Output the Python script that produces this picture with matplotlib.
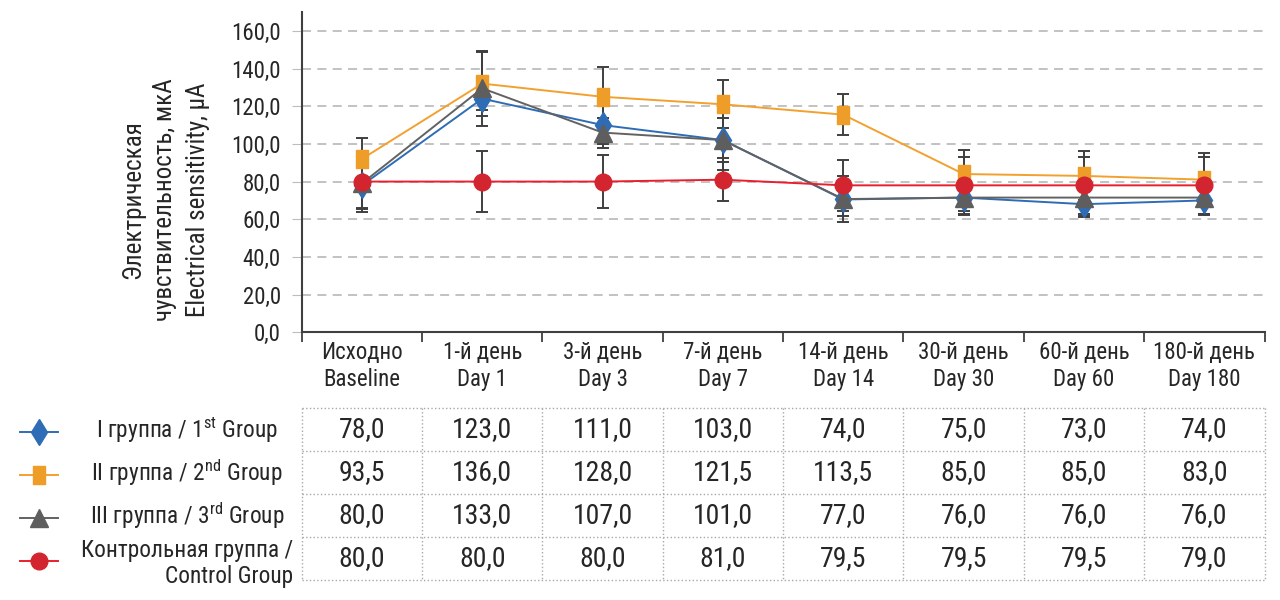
import matplotlib
matplotlib.use("Agg")
import matplotlib.pyplot as plt
import numpy as np
from matplotlib.path import Path as MPath

FONTS = ["Roboto Condensed", "PT Sans Narrow", "Fira Sans Condensed", "DejaVu Sans"]
plt.rcParams["font.family"] = FONTS
plt.rcParams["mathtext.fontset"] = "custom"
plt.rcParams["mathtext.rm"] = FONTS[0]

# ---------------------------------------------------------------------------
# data
# ---------------------------------------------------------------------------
CATS_RU = ["Исходно", "1-й день", "3-й день", "7-й день",
           "14-й день", "30-й день", "60-й день", "180-й день"]
CATS_EN = ["Baseline", "Day 1", "Day 3", "Day 7",
           "Day 14", "Day 30", "Day 60", "Day 180"]

# plotted points
G1 = [78, 124, 110, 102, 70.5, 71.5, 68, 70]
G2 = [92, 132, 125, 121, 115.5, 84, 83, 81]
G3 = [79, 129.5, 106, 102, 70.7, 71.5, 71.5, 71.5]
GC = [80, 80, 80, 81, 78, 78, 78, 78]

# error bars
E1 = [12.6, 6, 10, 16, 9, 7, 7, 7]
E2 = [11, 17, 16, 12.7, 11, 13, 13, 14]
E3 = [15, 20, 8, 11.5, 12, 9, 10, 9]
EC = [14, 16, 14, 11.5, 13.6, 15, 15, 15]

# table values
T1 = [78.0, 123.0, 111.0, 103.0, 74.0, 75.0, 73.0, 74.0]
T2 = [93.5, 136.0, 128.0, 121.5, 113.5, 85.0, 85.0, 83.0]
T3 = [80.0, 133.0, 107.0, 101.0, 77.0, 76.0, 76.0, 76.0]
TC = [80.0, 80.0, 80.0, 81.0, 79.5, 79.5, 79.5, 79.0]

LABELS = ["I группа / 1$^{\\mathrm{st}}$ Group",
          "II группа / 2$^{\\mathrm{nd}}$ Group",
          "III группа / 3$^{\\mathrm{rd}}$ Group",
          "Контрольная группа /\nControl Group"]

YTICKS = [0, 20, 40, 60, 80, 100, 120, 140, 160]

# styles
tall_sq = MPath([(-0.62, -1), (0.62, -1), (0.62, 1), (-0.62, 1), (-0.62, -1)],
                [1, 2, 2, 2, 79])
STYLES = [
    dict(color="#2E6DB6", marker="d", ms=13, mfc="#2E6DB6", mec="#2E6DB6"),
    dict(color="#F2A12E", marker=tall_sq, ms=13, mfc="#EE9E28", mec="#EE9E28"),
    dict(color="#626262", marker="^", ms=13, mfc="#5E5E5E", mec="#5E5E5E"),
    dict(color="#E8202E", marker="o", ms=12, mfc="#D32530", mec="#D32530"),
]
SERIES = [(G1, E1, T1), (G2, E2, T2), (G3, E3, T3), (GC, EC, TC)]
ZORD = [4, 3, 5, 6]
TXT = "#262626"

W, H = 1280, 600
fig = plt.figure(figsize=(12.8, 6), dpi=100)

L, R, TOP, BOT = 301.7, 1264.5, 12, 332.3
ax = fig.add_axes([L / W, 1 - BOT / H, (R - L) / W, (BOT - TOP) / H])
x = np.arange(len(CATS_EN))

for (vals, err, _), st, z in zip(SERIES, STYLES, ZORD):
    ax.errorbar(x, vals, yerr=err, fmt="none", ecolor="#3F3F3F",
                elinewidth=1.4, capsize=4, capthick=1.4, zorder=2)
    ax.plot(x, vals, color=st["color"], lw=1.4, marker=st["marker"],
            ms=st["ms"], mfc=st["mfc"], mec=st["mec"], zorder=z)

ax.set_xlim(-0.5, 7.5)
ax.set_ylim(0, 170)
ax.set_yticks(YTICKS)
ax.set_yticklabels([f"{v:.1f}".replace(".", ",") for v in YTICKS], fontsize=16.5)
for v in YTICKS[1:]:
    ax.axhline(v, color="#BDBDBD", lw=1.3, ls=(0, (5, 3.5)), zorder=1)
ax.tick_params(axis="y", length=7, color="#BDBDBD", pad=8, labelcolor=TXT)

ax.set_xticks(np.arange(-0.5, 8, 1))
ax.set_xticklabels([])
ax.set_xticks(x, minor=True)
ax.set_xticklabels([f"{r}\n{e}" for r, e in zip(CATS_RU, CATS_EN)],
                   minor=True, fontsize=16.5, linespacing=1.25)
ax.tick_params(axis="x", which="major", length=7, width=1.3, color="#3F3F3F")
ax.tick_params(axis="x", which="minor", length=0, pad=6, labelcolor=TXT)

for s in ["top", "right"]:
    ax.spines[s].set_visible(False)
for s in ["left", "bottom"]:
    ax.spines[s].set_color("#3F3F3F")
    ax.spines[s].set_linewidth(1.5)

# y label, three lines
for xp, txt in [(133, "Электрическая"), (165, "чувствительность, мкА"),
                (198, "Electrical sensitivity, µA")]:
    fig.text(xp / W, 1 - 200 / H, txt, rotation=90, ha="center", va="center",
             fontsize=18, color=TXT)

# ---------------------------------------------------------------------------
# data table
# ---------------------------------------------------------------------------
TT, TB = 408, 580
axt = fig.add_axes([L / W, 1 - TB / H, (R - L) / W, (TB - TT) / H])
axt.set_xlim(-0.5, 7.5)
axt.set_ylim(4, 0)
axt.axis("off")
for yy in range(5):
    axt.plot([-0.5, 7.5], [yy, yy], color="#A8A8A8", lw=1.0, ls=":",
             clip_on=False)
for xx in np.arange(-0.5, 8, 1):
    axt.plot([xx, xx], [0, 4], color="#A8A8A8", lw=1.0, ls=":", clip_on=False)
for row, (_, _, tvals) in enumerate(SERIES):
    for col, v in enumerate(tvals):
        axt.text(col, row + 0.5, f"{v:.1f}".replace(".", ","), ha="center",
                 va="center", fontsize=20, color=TXT)

# legend column on the left
axl = fig.add_axes([0, 0, L / W, 1])
axl.set_xlim(0, L)
axl.set_ylim(H, 0)
axl.axis("off")
row_h = (TB - TT) / 4
for i, (st, lab) in enumerate(zip(STYLES, LABELS)):
    yc = TT + row_h * (i + 0.5) + 2
    axl.plot([20, 39, 58], [yc, yc, yc], color=st["color"], lw=1.4,
             marker=st["marker"], ms=st["ms"], mfc=st["mfc"], mec=st["mec"],
             markevery=[1])
    ty = yc - 1.5 if i < 3 else yc + 3
    axl.text(187, ty, lab, ha="center", va="center", fontsize=16.8,
             multialignment="right", linespacing=1.2, color=TXT)

fig.savefig("out.png", dpi=100, facecolor="white")
